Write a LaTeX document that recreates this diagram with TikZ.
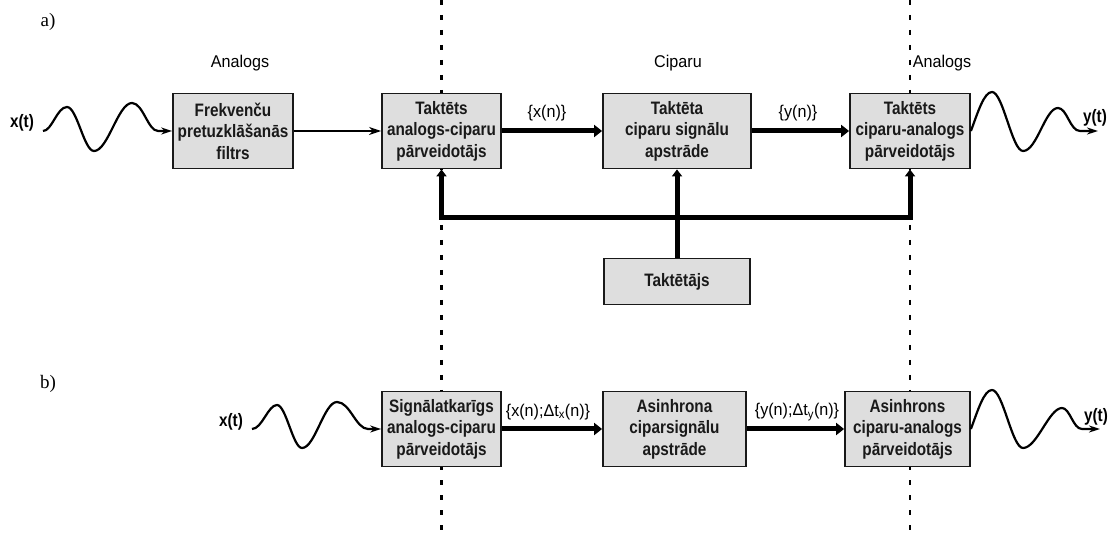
\documentclass[tikz,border=0pt]{standalone}
\usepackage{fontspec}
\setmainfont{Liberation Serif}
\newfontfamily\boxfont[FakeStretch=0.85]{Liberation Sans}
\newfontfamily\labfont[FakeStretch=0.95]{Liberation Sans}
\usetikzlibrary{arrows.meta}

\begin{document}
\begin{tikzpicture}[x=1pt,y=-1pt,
  block/.style={draw=black!90, line width=1.8pt, fill=black!13, minimum height=75pt,
    inner sep=0pt, align=center, text=black!90,
    font=\boxfont\bfseries\fontsize{18}{21.5}\selectfont},
  lab/.style={font=\labfont\fontsize{17}{20}\selectfont, inner sep=0pt},
  sig/.style={font=\boxfont\bfseries\fontsize{18}{20}\selectfont, inner sep=0pt},
  part/.style={font=\fontsize{19}{22}\selectfont, inner sep=0pt},
  sep/.style={line width=2.4pt, dash pattern=on 5pt off 10pt},
  thinarrow/.style={line width=2.4pt, -{Stealth[length=12pt,width=8pt]}},
  thickarrow/.style={line width=5pt, -{Triangle[length=8pt,width=12pt]}},
  wave/.style={line width=2.2pt, line join=round, -{Stealth[length=11pt,width=7pt]}},
  clkup/.style={line width=5pt, -{Triangle[length=7pt,width=10pt]}},
  bus/.style={line width=5pt, line join=miter,
    {Triangle[length=7pt,width=10pt]}-{Triangle[length=7pt,width=10pt]}}
]
\useasboundingbox (0,0) rectangle (1114,534);
\fill[white] (0,0) rectangle (1114,534);

% analog / digital boundaries
\coordinate (s1t) at (441.5,0);
\coordinate (s1b) at (441.5,534);
\coordinate (s2t) at (910,0);
\coordinate (s2b) at (910,534);
\draw[sep] (s1t) -- (s1b);
\draw[sep] (s2t) -- (s2b);

% part labels and domain titles
\node[part] (pa) at (48,22) {a)};
\node[part] (pb) at (48,384) {b)};
\node[lab] (an1) at (240,63) {Analogs};
\node[lab] (cip) at (678,63) {Ciparu};
\node[lab] (an2) at (942,63) {Analogs};

% a) clocked chain
\node[block, minimum width=120pt] (filt) at (233,131) {Frekvenču\\pretuzklāšanās\\filtrs};
\node[block, minimum width=119pt] (adc) at (441.5,131) {Taktēts\\analogs-ciparu\\pārveidotājs};
\node[block, minimum width=148pt] (dsp) at (677,131) {Taktēta\\ciparu signālu\\apstrāde};
\node[block, minimum width=120pt] (dac) at (910,131) {Taktēts\\ciparu-analogs\\pārveidotājs};
\node[block, minimum width=146pt, minimum height=46pt] (clk) at (677,281.5) {Taktētājs};

\draw[thinarrow] (filt) -- (adc);
\draw[thickarrow] (adc) -- (dsp);
\draw[thickarrow] (dsp) -- (dac);
\node[lab] (xn) at (547,113) {\{x(n)\}};
\node[lab] (yn) at (798,113) {\{y(n)\}};

% clock distribution
\coordinate (busL) at (441.5,218);
\coordinate (busR) at (910,218);
\draw[bus] (adc.south) -- (busL) -- (busR) -- (dac.south);
\draw[clkup] (clk.north) -- (dsp.south);

% input and output signals of a)
\node[sig] (xta) at (22,123) {x(t)};
\coordinate (xa) at (43,131);
\draw[wave] (xa) .. controls (52,131) and (57,107) .. (67,107)
  .. controls (77,107) and (84,151) .. (94,151)
  .. controls (108,151) and (118,103) .. (132,103)
  .. controls (143,103) and (148,131) .. (158,131) -- (filt.west);
\node[sig] (yta) at (1095,118) {y(t)};
\coordinate (ya) at (1098,131);
\draw[wave] (dac.east) .. controls (978,112) and (984,92) .. (992,92)
  .. controls (1003,92) and (1012,151) .. (1023,151)
  .. controls (1037,151) and (1045,108) .. (1058,108)
  .. controls (1067,108) and (1070,131) .. (1080,131) -- (ya);

% b) asynchronous chain
\node[block, minimum width=119pt] (sadc) at (441.5,429) {Signālatkarīgs\\analogs-ciparu\\pārveidotājs};
\node[block, minimum width=143pt] (adsp) at (674.5,429) {Asinhrona\\ciparsignālu\\apstrāde};
\node[block, minimum width=125pt] (adac) at (907.5,429) {Asinhrons\\ciparu-analogs\\pārveidotājs};

\draw[thickarrow] (sadc) -- (adsp);
\draw[thickarrow] (adsp) -- (adac);
\node[lab] (xdn) at (548,412) {\{x(n);Δt\textsubscript{x}(n)\}};
\node[lab] (ydn) at (797,412) {\{y(n);Δt\textsubscript{y}(n)\}};

\node[sig] (xtb) at (231,422) {x(t)};
\coordinate (xb) at (252,429);
\draw[wave] (xb) .. controls (262,429) and (268,405) .. (277,405)
  .. controls (286,405) and (293,448) .. (302,448)
  .. controls (315,448) and (324,402) .. (337,402)
  .. controls (350,402) and (356,429) .. (368,429) -- (sadc.west);
\node[sig] (ytb) at (1096,417) {y(t)};
\coordinate (yb) at (1100,429);
\draw[wave] (adac.east) .. controls (978,410) and (984,390) .. (992,390)
  .. controls (1003,390) and (1012,448) .. (1023,448)
  .. controls (1037,448) and (1049,408) .. (1062,408)
  .. controls (1070,408) and (1073,429) .. (1082,429) -- (yb);
\end{tikzpicture}
\end{document}
